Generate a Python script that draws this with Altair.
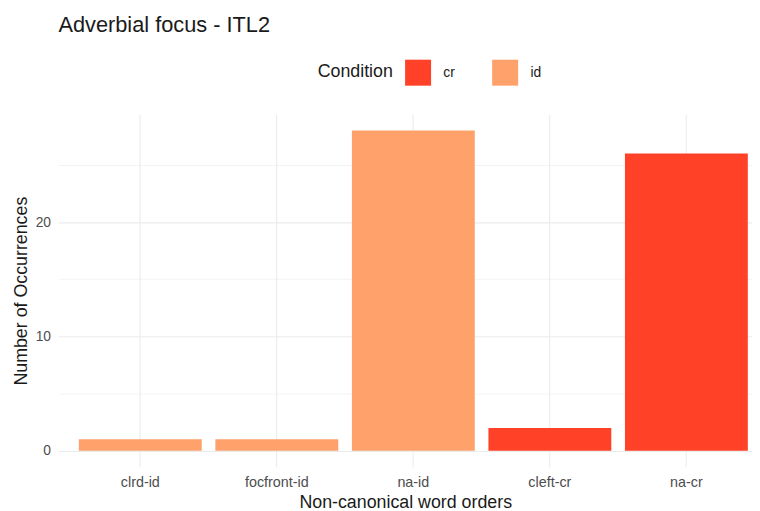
import altair as alt
import pandas as pd

orders = ["clrd-id", "focfront-id", "na-id", "cleft-cr", "na-cr"]
counts = [1, 1, 28, 2, 26]
conditions = ["id", "id", "id", "cr", "cr"]
cond_levels = ["cr", "id"]
cond_colors = ["#FE4127", "#FEA16A"]

df = pd.DataFrame({"order": orders, "count": counts, "Condition": conditions})

FONT = "Liberation Sans"

bars = alt.Chart(df).mark_bar().encode(
    x=alt.X(
        "order:N",
        sort=orders,
        title="Non-canonical word orders",
        scale=alt.Scale(paddingInner=0.1, paddingOuter=0.09, align=0.83),
        axis=alt.Axis(
            labelAngle=0,
            ticks=False,
            domain=False,
            grid=True,
            bandPosition=0.5,
            gridColor="#EBEBEB",
            gridWidth=1.1,
            labelFontSize=14.5,
            labelColor="#4D4D4D",
            labelPadding=9,
            titleFontSize=18,
            titleFontWeight="normal",
            titleColor="#1A1A1A",
            titlePadding=5,
            labelFont=FONT,
            titleFont=FONT,
        ),
    ),
    y=alt.Y(
        "count:Q",
        title="Number of Occurrences",
        scale=alt.Scale(domain=[-1.4, 29.4], nice=False, zero=False),
        axis=alt.Axis(
            values=[0, 5, 10, 15, 20, 25],
            labelExpr="datum.value % 10 === 0 ? datum.label : ''",
            ticks=False,
            domain=False,
            grid=True,
            gridColor="#EBEBEB",
            gridWidth={"condition": {"test": "datum.value % 10 === 0", "value": 1.1}, "value": 0.6},
            labelFontSize=14,
            labelColor="#4D4D4D",
            labelPadding=8,
            titleFontSize=18,
            titleFontWeight="normal",
            titleColor="#1A1A1A",
            titlePadding=5,
            labelFont=FONT,
            titleFont=FONT,
        ),
    ),
    y2=alt.datum(0),
    color=alt.Color(
        "Condition:N",
        scale=alt.Scale(domain=cond_levels, range=cond_colors),
        legend=alt.Legend(
            orient="none",
            legendX=262,
            legendY=-56,
            direction="horizontal",
            titleOrient="left",
            titleFontSize=18,
            titleFontWeight="normal",
            titleColor="#1A1A1A",
            titleFont=FONT,
            titlePadding=11,
            titleBaseline="middle",
            labelFontSize=14,
            labelColor="#1A1A1A",
            labelFont=FONT,
            labelOffset=12,
            columnPadding=37,
            symbolType="square",
            symbolSize=690,
            symbolStrokeWidth=0,
            symbolOpacity=1,
        ),
    ),
)

chart = bars.properties(
    width=701,
    height=356,
    title=alt.TitleParams(
        "Adverbial focus - ITL2",
        anchor="start",
        frame="group",
        fontSize=22,
        fontWeight="normal",
        font=FONT,
        color="#1A1A1A",
        offset=22,
    ),
    autosize=alt.AutoSizeParams(type="none"),
    padding={"left": 51, "top": 105, "right": 0, "bottom": 42},
).configure_view(strokeWidth=0)

chart.save("out.html", embed_options={"renderer": "svg", "actions": False})
